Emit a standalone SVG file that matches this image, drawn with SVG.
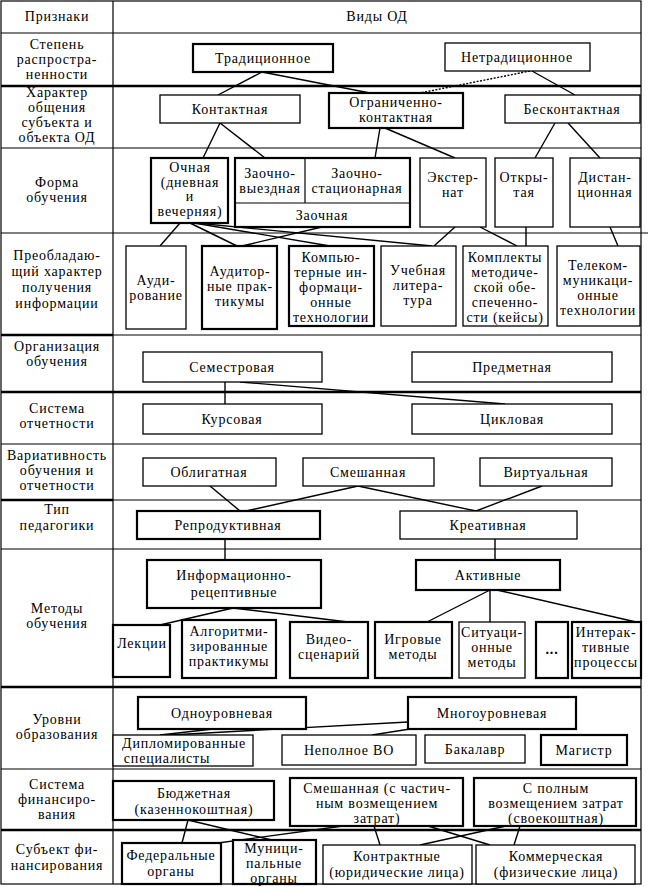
<svg xmlns="http://www.w3.org/2000/svg" width="648" height="887" viewBox="0 0 648 887">
<style>
text{font-family:"Liberation Serif",serif;font-size:14px;letter-spacing:0.8px;fill:#000;text-anchor:middle}
.b{fill:#fff;stroke:#000;stroke-width:1.3}
.t{fill:#fff;stroke:#000;stroke-width:2.2}
.g{stroke:#000;stroke-width:1.2;fill:none}
.gt{stroke:#000;stroke-width:2.6;fill:none}
.c line{stroke:#000;stroke-width:1.4}
</style>
<rect width="648" height="887" fill="#fff"/>
<g id="table">
<rect x="1" y="1" width="640" height="883" class="g"/>
<line x1="113" y1="1" x2="113" y2="884" class="g"/>
<line x1="1" y1="33" x2="641" y2="33" class="g"/>
<line x1="1" y1="86" x2="641" y2="86" class="gt"/>
<line x1="1" y1="148" x2="641" y2="148" class="g"/>
<line x1="1" y1="233" x2="648" y2="233" class="g"/>
<line x1="1" y1="335" x2="113" y2="335" class="gt"/>
<line x1="113" y1="335" x2="641" y2="335" class="g"/>
<line x1="1" y1="392" x2="641" y2="392" class="gt"/>
<line x1="1" y1="444" x2="641" y2="444" class="g"/>
<line x1="1" y1="500" x2="113" y2="500" class="gt"/>
<line x1="113" y1="500" x2="641" y2="500" class="g"/>
<line x1="1" y1="549" x2="641" y2="549" class="g"/>
<line x1="1" y1="687" x2="641" y2="687" class="gt"/>
<line x1="1" y1="769" x2="641" y2="769" class="g"/>
<line x1="1" y1="830" x2="641" y2="830" class="gt"/>
<text x="57" y="21">Признаки</text>
<text x="377" y="21">Виды ОД</text>
<text x="57" y="49">Степень</text><text x="57" y="64">распростра-</text><text x="57" y="79">ненности</text>
<text x="57" y="97">Характер</text><text x="57" y="112">общения</text><text x="57" y="127">субъекта и</text><text x="57" y="142">объекта ОД</text>
<text x="57" y="187">Форма</text><text x="57" y="202">обучения</text>
<text x="57" y="260">Преобладаю-</text><text x="57" y="276">щий характер</text><text x="57" y="292">получения</text><text x="57" y="308">информации</text>
<text x="57" y="351">Организация</text><text x="57" y="366">обучения</text>
<text x="57" y="413">Система</text><text x="57" y="428">отчетности</text>
<text x="57" y="460">Вариативность</text><text x="57" y="475">обучения и</text><text x="57" y="490">отчетности</text>
<text x="57" y="514">Тип</text><text x="57" y="530">педагогики</text>
<text x="57" y="613">Методы</text><text x="57" y="628">обучения</text>
<text x="57" y="724">Уровни</text><text x="57" y="739">образования</text>
<text x="57" y="789">Система</text><text x="57" y="804">финансиро-</text><text x="57" y="819">вания</text>
<text x="57" y="854">Субъект фи-</text><text x="57" y="870">нансирования</text>
</g>
<g id="connectors" class="c">
<line x1="262" y1="72" x2="218" y2="95"/>
<line x1="262" y1="72" x2="370" y2="93"/>
<line x1="530" y1="71" x2="420" y2="93" stroke-dasharray="2,1.5"/>
<line x1="532" y1="71" x2="575" y2="95"/>
<line x1="220" y1="123" x2="203" y2="158"/>
<line x1="220" y1="123" x2="265" y2="158"/>
<line x1="380" y1="128" x2="375" y2="158"/>
<line x1="385" y1="128" x2="455" y2="158"/>
<line x1="555" y1="123" x2="535" y2="158"/>
<line x1="568" y1="123" x2="600" y2="158"/>
<line x1="180" y1="223" x2="160" y2="246"/>
<line x1="190" y1="223" x2="237" y2="246"/>
<line x1="194" y1="223" x2="330" y2="246"/>
<line x1="196" y1="223" x2="432" y2="246"/>
<line x1="322" y1="227" x2="242" y2="246"/>
<line x1="455" y1="227" x2="434" y2="246"/>
<line x1="480" y1="227" x2="517" y2="246"/>
<line x1="526" y1="227" x2="526" y2="246"/>
<line x1="610" y1="227" x2="618" y2="246"/>
<line x1="225" y1="382" x2="225" y2="404"/>
<line x1="240" y1="382" x2="505" y2="404"/>
<line x1="210" y1="486" x2="240" y2="511"/>
<line x1="358" y1="486" x2="246" y2="511"/>
<line x1="358" y1="486" x2="476" y2="511"/>
<line x1="542" y1="486" x2="476" y2="511"/>
<line x1="225" y1="539" x2="225" y2="560"/>
<line x1="495" y1="539" x2="495" y2="560"/>
<line x1="233" y1="608" x2="160" y2="625"/>
<line x1="233" y1="608" x2="348" y2="622"/>
<line x1="490" y1="590" x2="427" y2="622"/>
<line x1="490" y1="590" x2="490" y2="622"/>
<line x1="497" y1="590" x2="636" y2="622"/>
<line x1="213" y1="729" x2="160" y2="735"/>
<line x1="408" y1="722" x2="170" y2="735"/>
<line x1="410" y1="729" x2="372" y2="735"/>
<line x1="188" y1="820" x2="182" y2="843"/>
<line x1="188" y1="820" x2="272" y2="840"/>
<line x1="343" y1="826" x2="218" y2="843"/>
<line x1="374" y1="826" x2="380" y2="845"/>
<line x1="428" y1="826" x2="490" y2="845"/>
<line x1="506" y1="826" x2="420" y2="845"/>
<line x1="520" y1="826" x2="514" y2="845"/>
</g>
<g id="n-trad"><rect x="193" y="44" width="140" height="28" class="t"/><text x="263" y="63">Традиционное</text></g>
<g id="n-netrad"><rect x="445" y="43" width="145" height="28" class="b"/><text x="517" y="62">Нетрадиционное</text></g>
<g id="n-kontakt"><rect x="160" y="95" width="140" height="28" class="b"/><text x="230" y="114">Контактная</text></g>
<g id="n-ogran"><rect x="329" y="93" width="134" height="35" class="t"/><text x="396" y="107">Ограниченно-</text><text x="396" y="122">контактная</text></g>
<g id="n-beskontakt"><rect x="505" y="95" width="135" height="28" class="b"/><text x="572" y="114">Бесконтактная</text></g>
<g id="n-ochnaya"><rect x="151" y="158" width="77" height="65" class="t"/><text x="190" y="172">Очная</text><text x="190" y="187">(дневная</text><text x="190" y="201">и</text><text x="190" y="216">вечерняя)</text></g>
<g id="n-zaochnaya"><rect x="235" y="158" width="175" height="69" class="t"/><line x1="305" y1="158" x2="305" y2="203" class="g"/><line x1="235" y1="203" x2="410" y2="203" class="g"/><text x="270" y="178">Заочно-</text><text x="270" y="193">выездная</text><text x="357" y="178">Заочно-</text><text x="357" y="193">стационарная</text><text x="322" y="220">Заочная</text></g>
<g id="n-eksternat"><rect x="420" y="158" width="66" height="69" class="b"/><text x="453" y="182">Экстер-</text><text x="453" y="197">нат</text></g>
<g id="n-otkrytaya"><rect x="495" y="158" width="58" height="69" class="b"/><text x="524" y="182">Откры-</text><text x="524" y="197">тая</text></g>
<g id="n-distan"><rect x="570" y="158" width="70" height="69" class="b"/><text x="605" y="182">Дистан-</text><text x="605" y="197">ционная</text></g>
<g id="n-audir"><rect x="126" y="246" width="60" height="83" class="b"/><text x="156" y="285">Ауди-</text><text x="156" y="300">рование</text></g>
<g id="n-audprak"><rect x="202" y="246" width="75" height="83" class="t"/><text x="240" y="276">Аудитор-</text><text x="240" y="291">ные прак-</text><text x="240" y="306">тикумы</text></g>
<g id="n-komp"><rect x="289" y="246" width="85" height="80" class="t"/><text x="331" y="262">Компью-</text><text x="331" y="277">терные ин-</text><text x="331" y="292">формаци-</text><text x="331" y="307">онные</text><text x="331" y="322">технологии</text></g>
<g id="n-ucheb"><rect x="381" y="246" width="75" height="80" class="b"/><text x="418" y="275">Учебная</text><text x="418" y="290">литера-</text><text x="418" y="305">тура</text></g>
<g id="n-komplekty"><rect x="463" y="246" width="85" height="80" class="b"/><text x="505" y="262">Комплекты</text><text x="505" y="277">методиче-</text><text x="505" y="292">ской обе-</text><text x="505" y="307">спеченно-</text><text x="505" y="322">сти (кейсы)</text></g>
<g id="n-telekom"><rect x="557" y="246" width="83" height="80" class="b"/><text x="598" y="270">Телеком-</text><text x="598" y="285">муникаци-</text><text x="598" y="300">онные</text><text x="598" y="315">технологии</text></g>
<g id="n-semestr"><rect x="143" y="352" width="179" height="30" class="b"/><text x="232" y="372">Семестровая</text></g>
<g id="n-predmet"><rect x="412" y="352" width="200" height="30" class="b"/><text x="512" y="372">Предметная</text></g>
<g id="n-kurs"><rect x="143" y="404" width="179" height="30" class="b"/><text x="232" y="424">Курсовая</text></g>
<g id="n-cikl"><rect x="412" y="404" width="200" height="30" class="b"/><text x="512" y="424">Цикловая</text></g>
<g id="n-oblig"><rect x="143" y="458" width="133" height="28" class="b"/><text x="209" y="477">Облигатная</text></g>
<g id="n-smesh"><rect x="303" y="458" width="131" height="28" class="b"/><text x="368" y="477">Смешанная</text></g>
<g id="n-virt"><rect x="480" y="458" width="132" height="28" class="b"/><text x="546" y="477">Виртуальная</text></g>
<g id="n-reprod"><rect x="137" y="511" width="183" height="28" class="t"/><text x="228" y="530">Репродуктивная</text></g>
<g id="n-kreat"><rect x="400" y="511" width="177" height="28" class="b"/><text x="488" y="530">Креативная</text></g>
<g id="n-inforec"><rect x="147" y="560" width="174" height="48" class="t"/><text x="234" y="580">Информационно-</text><text x="234" y="597">рецептивные</text></g>
<g id="n-aktiv"><rect x="416" y="560" width="144" height="30" class="t"/><text x="488" y="580">Активные</text></g>
<g id="n-lekcii"><rect x="113" y="625" width="57" height="52" class="t"/><text x="142" y="648">Лекции</text></g>
<g id="n-algor"><rect x="182" y="620" width="94" height="58" class="t"/><text x="229" y="636">Алгоритми-</text><text x="229" y="651">зированные</text><text x="229" y="666">практикумы</text></g>
<g id="n-video"><rect x="290" y="622" width="78" height="56" class="t"/><text x="329" y="644">Видео-</text><text x="329" y="659">сценарий</text></g>
<g id="n-igr"><rect x="375" y="622" width="77" height="56" class="t"/><text x="413" y="644">Игровые</text><text x="413" y="659">методы</text></g>
<g id="n-situac"><rect x="459" y="622" width="66" height="56" class="b"/><text x="492" y="637">Ситуаци-</text><text x="492" y="652">онные</text><text x="492" y="667">методы</text></g>
<g id="n-dots"><rect x="536" y="622" width="32" height="56" class="t"/><text x="552" y="654" font-weight="bold">...</text></g>
<g id="n-interakt"><rect x="572" y="622" width="69" height="56" class="t"/><text x="606" y="637">Интерак-</text><text x="606" y="652">тивные</text><text x="606" y="667">процессы</text></g>
<g id="n-odno"><rect x="138" y="697" width="168" height="32" class="t"/><text x="222" y="718">Одноуровневая</text></g>
<g id="n-mnogo"><rect x="408" y="697" width="168" height="32" class="t"/><text x="492" y="718">Многоуровневая</text></g>
<g id="n-diplom"><rect x="113" y="735" width="140" height="31" class="b"/><text x="184" y="748">Дипломированные</text><text x="167" y="763">специалисты</text></g>
<g id="n-nepoln"><rect x="282" y="735" width="134" height="30" class="b"/><text x="349" y="755">Неполное ВО</text></g>
<g id="n-bakalavr"><rect x="425" y="735" width="100" height="28" class="b"/><text x="475" y="754">Бакалавр</text></g>
<g id="n-magistr"><rect x="541" y="735" width="86" height="30" class="t"/><text x="584" y="755">Магистр</text></g>
<g id="n-budzh"><rect x="113" y="781" width="161" height="39" class="t"/><text x="194" y="798">Бюджетная</text><text x="194" y="814">(казеннокоштная)</text></g>
<g id="n-smeshfin"><rect x="290" y="778" width="173" height="48" class="t"/><text x="377" y="793">Смешанная (с частич-</text><text x="377" y="808">ным возмещением</text><text x="377" y="823">затрат)</text></g>
<g id="n-polnym"><rect x="474" y="778" width="162" height="48" class="t"/><text x="556" y="793">С полным</text><text x="556" y="808">возмещением затрат</text><text x="556" y="823">(своекоштная)</text></g>
<g id="n-feder"><rect x="122" y="843" width="99" height="41" class="t"/><text x="171" y="860">Федеральные</text><text x="171" y="876">органы</text></g>
<g id="n-munic"><rect x="233" y="840" width="83" height="44" class="t"/><text x="274" y="853">Муници-</text><text x="274" y="868">пальные</text><text x="274" y="883">органы</text></g>
<g id="n-kontrakt"><rect x="323" y="845" width="149" height="39" class="b"/><text x="397" y="861">Контрактные</text><text x="397" y="877">(юридические лица)</text></g>
<g id="n-kommerch"><rect x="476" y="845" width="159" height="39" class="b"/><text x="556" y="861">Коммерческая</text><text x="556" y="877">(физические лица)</text></g>
</svg>
